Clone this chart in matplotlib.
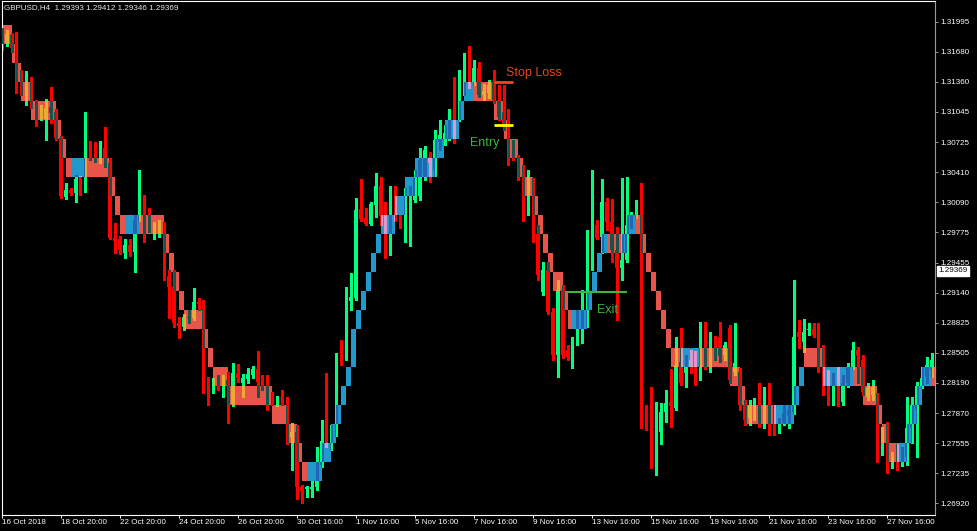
import matplotlib
matplotlib.use("Agg")
import matplotlib.pyplot as plt
from matplotlib.patches import Rectangle
from matplotlib.collections import LineCollection, PolyCollection
from matplotlib.transforms import blended_transform_factory

# ---------------- data (GBPUSD H4) ----------------
opens = [
    1.3188, 1.3177, 1.3185, 1.3172, 1.3143, 1.3117, 1.3138, 1.3113, 1.3100, 1.3097,
    1.3110, 1.3104, 1.3077, 1.3015, 1.3022, 1.3019, 1.3034, 1.3022, 1.3069, 1.3068,
    1.3056, 1.3066, 1.3051, 1.2972, 1.2970, 1.2956, 1.2964, 1.2957, 1.2991, 1.3013,
    1.2995, 1.2979, 1.2981, 1.2984, 1.2932, 1.2920, 1.2882, 1.2878, 1.2888, 1.2887,
    1.2904, 1.2903, 1.2822, 1.2813, 1.2819, 1.2818, 1.2822, 1.2797, 1.2829, 1.2819,
    1.2823, 1.2827, 1.2834, 1.2821, 1.2817, 1.2803, 1.2798, 1.2804, 1.2798, 1.2762,
    1.2767, 1.2709, 1.2707, 1.2707, 1.2709, 1.2732, 1.2758, 1.2751, 1.2766, 1.2854,
    1.2846, 1.2905, 1.2908, 1.3002, 1.2993, 1.2986, 1.3006, 1.3026, 1.2995, 1.2970,
    1.3022, 1.2995, 1.2988, 1.3003, 1.3012, 1.3016, 1.3037, 1.3057, 1.3043, 1.3073,
    1.3075, 1.3079, 1.3102, 1.3096, 1.3126, 1.3164, 1.3136, 1.3151, 1.3122, 1.3124,
    1.3136, 1.3117, 1.3104, 1.3089, 1.3064, 1.3057, 1.3038, 1.3006, 1.3031, 1.2976,
    1.2915, 1.2938, 1.2894, 1.2848, 1.2917, 1.2854, 1.2845, 1.2864, 1.2875, 1.2896,
    1.2954, 1.2985, 1.2973, 1.3009, 1.2988, 1.2959, 1.2940, 1.2948, 1.2985, 1.2996,
    1.3009, 1.2787, 1.2775, 1.2745, 1.2767, 1.2788, 1.2799, 1.2792, 1.2841, 1.2829,
    1.2843, 1.2836, 1.2825, 1.2868, 1.2846, 1.2858, 1.2867, 1.2848, 1.2877, 1.2830,
    1.2830, 1.2796, 1.2782, 1.2783, 1.2792, 1.2780, 1.2791, 1.2780, 1.2768, 1.2777,
    1.2784, 1.2788, 1.2872, 1.2862, 1.2875, 1.2876, 1.2872, 1.2848, 1.2827, 1.2806,
    1.2819, 1.2799, 1.2819, 1.2836, 1.2854, 1.2843, 1.2804, 1.2806, 1.2806, 1.2748,
    1.2775, 1.2735, 1.2738, 1.2736, 1.2741, 1.2771, 1.2790, 1.2816, 1.2825, 1.2832,
]
highs = [
    1.3193, 1.3191, 1.3188, 1.3189, 1.3149, 1.3148, 1.3141, 1.3117, 1.3112, 1.3118,
    1.3131, 1.3107, 1.3079, 1.3029, 1.3024, 1.3038, 1.3037, 1.3104, 1.3074, 1.3073,
    1.3074, 1.3089, 1.3056, 1.2987, 1.2974, 1.2970, 1.2970, 1.2996, 1.3043, 1.3017,
    1.3003, 1.2988, 1.2991, 1.2988, 1.2938, 1.2938, 1.2888, 1.2892, 1.2896, 1.2919,
    1.2908, 1.2906, 1.2825, 1.2824, 1.2827, 1.2827, 1.2830, 1.2840, 1.2839, 1.2828,
    1.2835, 1.2837, 1.2852, 1.2827, 1.2827, 1.2809, 1.2805, 1.2811, 1.2804, 1.2777,
    1.2775, 1.2711, 1.2710, 1.2715, 1.2751, 1.2780, 1.2829, 1.2775, 1.2850, 1.2864,
    1.2920, 1.2935, 1.3014, 1.3034, 1.3003, 1.3010, 1.3040, 1.3036, 1.3009, 1.3026,
    1.3026, 1.2996, 1.3024, 1.3026, 1.3043, 1.3066, 1.3068, 1.3062, 1.3085, 1.3096,
    1.3091, 1.3107, 1.3141, 1.3149, 1.3167, 1.3174, 1.3159, 1.3157, 1.3134, 1.3138,
    1.3149, 1.3133, 1.3133, 1.3107, 1.3075, 1.3059, 1.3049, 1.3043, 1.3035, 1.2985,
    1.2946, 1.2946, 1.2898, 1.2927, 1.2922, 1.2859, 1.2867, 1.2896, 1.2917, 1.2980,
    1.3043, 1.2991, 1.3034, 1.3014, 1.3013, 1.2983, 1.3035, 1.3036, 1.2999, 1.3012,
    1.3030, 1.2796, 1.2815, 1.2799, 1.2798, 1.2811, 1.2833, 1.2867, 1.2877, 1.2848,
    1.2854, 1.2852, 1.2883, 1.2883, 1.2873, 1.2868, 1.2883, 1.2862, 1.2880, 1.2882,
    1.2835, 1.2801, 1.2801, 1.2803, 1.2819, 1.2815, 1.2819, 1.2796, 1.2782, 1.2796,
    1.2796, 1.2927, 1.2885, 1.2886, 1.2882, 1.2882, 1.2882, 1.2859, 1.2832, 1.2829,
    1.2836, 1.2827, 1.2840, 1.2862, 1.2857, 1.2848, 1.2819, 1.2822, 1.2808, 1.2772,
    1.2778, 1.2746, 1.2754, 1.2751, 1.2804, 1.2804, 1.2820, 1.2836, 1.2846, 1.2850,
]
lows = [
    1.3170, 1.3174, 1.3168, 1.3124, 1.3122, 1.3112, 1.3109, 1.3090, 1.3096, 1.3075,
    1.3093, 1.3075, 1.3014, 1.3013, 1.3017, 1.3010, 1.3017, 1.3020, 1.3054, 1.3052,
    1.3051, 1.3046, 1.2970, 1.2956, 1.2955, 1.2950, 1.2953, 1.2936, 1.2989, 1.2967,
    1.2978, 1.2970, 1.2973, 1.2927, 1.2887, 1.2878, 1.2866, 1.2875, 1.2882, 1.2885,
    1.2896, 1.2808, 1.2796, 1.2808, 1.2811, 1.2804, 1.2777, 1.2795, 1.2820, 1.2804,
    1.2819, 1.2824, 1.2804, 1.2811, 1.2790, 1.2796, 1.2794, 1.2796, 1.2754, 1.2727,
    1.2696, 1.2692, 1.2699, 1.2699, 1.2706, 1.2730, 1.2751, 1.2748, 1.2763, 1.2838,
    1.2843, 1.2896, 1.2906, 1.2989, 1.2985, 1.2985, 1.2994, 1.2985, 1.2950, 1.2954,
    1.2989, 1.2982, 1.2967, 1.2963, 1.3010, 1.3012, 1.3033, 1.3031, 1.3037, 1.3064,
    1.3070, 1.3075, 1.3072, 1.3095, 1.3122, 1.3130, 1.3133, 1.3120, 1.3117, 1.3119,
    1.3114, 1.3096, 1.3085, 1.3049, 1.3054, 1.3033, 1.2989, 1.2996, 1.2967, 1.2927,
    1.2912, 1.2891, 1.2843, 1.2825, 1.2845, 1.2843, 1.2835, 1.2859, 1.2861, 1.2878,
    1.2938, 1.2970, 1.2956, 1.2980, 1.2946, 1.2885, 1.2927, 1.2946, 1.2982, 1.2993,
    1.2771, 1.2769, 1.2729, 1.2722, 1.2754, 1.2778, 1.2772, 1.2790, 1.2817, 1.2815,
    1.2829, 1.2817, 1.2822, 1.2833, 1.2830, 1.2843, 1.2841, 1.2843, 1.2819, 1.2827,
    1.2790, 1.2775, 1.2775, 1.2780, 1.2772, 1.2771, 1.2764, 1.2764, 1.2766, 1.2775,
    1.2771, 1.2786, 1.2856, 1.2851, 1.2869, 1.2867, 1.2830, 1.2806, 1.2796, 1.2796,
    1.2794, 1.2796, 1.2815, 1.2833, 1.2819, 1.2806, 1.2801, 1.2801, 1.2735, 1.2743,
    1.2724, 1.2729, 1.2727, 1.2731, 1.2732, 1.2756, 1.2741, 1.2813, 1.2819, 1.2825,
]
closes = [
    1.3177, 1.3187, 1.3172, 1.3143, 1.3128, 1.3136, 1.3113, 1.3098, 1.3107, 1.3109,
    1.3103, 1.3077, 1.3016, 1.3022, 1.3019, 1.3034, 1.3022, 1.3069, 1.3065, 1.3056,
    1.3065, 1.3056, 1.2972, 1.2968, 1.2959, 1.2964, 1.2957, 1.2991, 1.3013, 1.2996,
    1.2980, 1.2982, 1.2985, 1.2932, 1.2920, 1.2882, 1.2879, 1.2888, 1.2887, 1.2904,
    1.2902, 1.2822, 1.2813, 1.2819, 1.2817, 1.2822, 1.2817, 1.2829, 1.2824, 1.2824,
    1.2828, 1.2834, 1.2820, 1.2818, 1.2803, 1.2801, 1.2804, 1.2798, 1.2762, 1.2767,
    1.2709, 1.2705, 1.2709, 1.2709, 1.2715, 1.2758, 1.2754, 1.2766, 1.2847, 1.2846,
    1.2906, 1.2909, 1.3001, 1.2992, 1.2986, 1.3007, 1.3026, 1.2995, 1.2970, 1.3022,
    1.2993, 1.2988, 1.3004, 1.3014, 1.3035, 1.3054, 1.3064, 1.3051, 1.3075, 1.3080,
    1.3082, 1.3094, 1.3095, 1.3127, 1.3164, 1.3134, 1.3151, 1.3122, 1.3127, 1.3133,
    1.3117, 1.3099, 1.3089, 1.3057, 1.3057, 1.3037, 1.3012, 1.3033, 1.2975, 1.2933,
    1.2938, 1.2894, 1.2848, 1.2917, 1.2848, 1.2846, 1.2864, 1.2872, 1.2887, 1.2956,
    1.2985, 1.2972, 1.3009, 1.2988, 1.2959, 1.2940, 1.2948, 1.2985, 1.2994, 1.3009,
    1.2787, 1.2775, 1.2745, 1.2788, 1.2788, 1.2798, 1.2795, 1.2838, 1.2819, 1.2836,
    1.2836, 1.2825, 1.2836, 1.2840, 1.2859, 1.2850, 1.2847, 1.2859, 1.2822, 1.2840,
    1.2796, 1.2780, 1.2796, 1.2798, 1.2780, 1.2792, 1.2778, 1.2772, 1.2776, 1.2787,
    1.2790, 1.2867, 1.2867, 1.2872, 1.2876, 1.2869, 1.2836, 1.2829, 1.2808, 1.2820,
    1.2799, 1.2819, 1.2835, 1.2854, 1.2847, 1.2809, 1.2813, 1.2815, 1.2748, 1.2767,
    1.2735, 1.2741, 1.2736, 1.2746, 1.2771, 1.2796, 1.2816, 1.2824, 1.2838, 1.2843,
]

# renko-style boxes: first bar, last bar, top price, colour ('d' red, 'u' blue)
brick_start = [0, 2, 3, 4, 6, 11, 12, 13, 14, 17, 22, 23, 24, 25, 28, 33, 34, 35, 36, 37,
               41, 42, 43, 46, 55, 58, 60, 61, 62, 65, 67, 68, 69, 70, 71, 71, 72, 73, 74, 75,
               76, 77, 80, 82, 84, 88, 90, 93, 94, 96, 100, 102, 103, 105, 106, 108, 109, 110, 111, 112,
               114, 115, 116, 119, 120, 121, 122, 123, 126, 127, 129, 130, 131, 132, 133, 134, 135, 136, 138, 142,
               148, 150, 151, 157, 161, 162, 163, 167, 173, 175, 178, 179, 180, 182, 184, 185, 186, 187, 189]
brick_end = [2, 3, 4, 6, 11, 12, 13, 14, 17, 22, 23, 24, 25, 28, 33, 34, 35, 36, 37, 41,
             42, 43, 46, 55, 58, 60, 61, 62, 65, 67, 68, 69, 70, 71, 72, 72, 73, 74, 75, 76,
             77, 80, 82, 84, 88, 90, 93, 94, 96, 100, 102, 103, 105, 106, 108, 109, 110, 111, 112, 114,
             115, 116, 119, 120, 121, 122, 123, 126, 127, 129, 130, 131, 132, 133, 134, 135, 136, 138, 142, 148,
             150, 151, 157, 161, 162, 163, 167, 173, 175, 178, 179, 180, 182, 184, 185, 186, 187, 189, 191]
brick_top = [1.3196, 1.3176, 1.3156, 1.3136, 1.3116, 1.3096, 1.3076, 1.3056, 1.3056, 1.3056,
             1.3036, 1.3016, 1.2996, 1.2996, 1.2996, 1.2976, 1.2956, 1.2936, 1.2916, 1.2896,
             1.2876, 1.2856, 1.2836, 1.2816, 1.2796, 1.2776, 1.2756, 1.2736, 1.2736, 1.2756,
             1.2776, 1.2796, 1.2816, 1.2836, 1.2856, 1.2876, 1.2896, 1.2916, 1.2936, 1.2956,
             1.2976, 1.2996, 1.3016, 1.3036, 1.3056, 1.3076, 1.3096, 1.3116, 1.3136, 1.3136,
             1.3116, 1.3096, 1.3076, 1.3056, 1.3036, 1.3016, 1.2996, 1.2976, 1.2956, 1.2936,
             1.2916, 1.2896, 1.2896, 1.2916, 1.2936, 1.2956, 1.2976, 1.2976, 1.2976, 1.2996,
             1.2996, 1.2976, 1.2956, 1.2936, 1.2916, 1.2896, 1.2876, 1.2856, 1.2856, 1.2856,
             1.2836, 1.2816, 1.2796, 1.2796, 1.2816, 1.2836, 1.2856, 1.2836, 1.2836, 1.2816,
             1.2796, 1.2776, 1.2756, 1.2756, 1.2776, 1.2796, 1.2816, 1.2836, 1.2836]
brick_dir = ['d', 'd', 'd', 'd', 'd', 'd', 'd', 'd', 'u', 'd',
             'd', 'd', 'd', 'u', 'd', 'd', 'd', 'd', 'd', 'd',
             'd', 'd', 'd', 'd', 'd', 'd', 'd', 'd', 'u', 'u',
             'u', 'u', 'u', 'u', 'u', 'u', 'u', 'u', 'u', 'u',
             'u', 'u', 'u', 'u', 'u', 'u', 'u', 'u', 'u', 'd',
             'd', 'd', 'd', 'd', 'd', 'd', 'd', 'd', 'd', 'd',
             'd', 'd', 'u', 'u', 'u', 'u', 'u', 'd', 'u', 'u',
             'd', 'd', 'd', 'd', 'd', 'd', 'd', 'd', 'u', 'd',
             'd', 'd', 'd', 'u', 'u', 'u', 'd', 'u', 'd', 'd',
             'd', 'd', 'd', 'u', 'u', 'u', 'u', 'u', 'd']
BRICK = 0.0020

price_ticks = [1.31995, 1.31680, 1.31360, 1.31045, 1.30725, 1.30410, 1.30090, 1.29775,
               1.29455, 1.29140, 1.28825, 1.28505, 1.28190, 1.27870, 1.27555, 1.27235, 1.26920]
date_tick_bars = [0, 12, 24, 36, 48, 60, 72, 84, 96, 108, 120, 132, 144, 156, 168, 180]
date_labels = ['16 Oct 2018', '18 Oct 20:00', '22 Oct 20:00', '24 Oct 20:00', '26 Oct 20:00',
               '30 Oct 16:00', '1 Nov 16:00', '5 Nov 16:00', '7 Nov 16:00', '9 Nov 16:00',
               '13 Nov 16:00', '15 Nov 16:00', '19 Nov 16:00', '21 Nov 16:00', '23 Nov 16:00',
               '27 Nov 16:00']
header = "GBPUSD,H4  1.29393 1.29412 1.29346 1.29369"
last_price = 1.29369

stop_level, entry_level, exit_level = 1.3136, 1.3091, 1.2915
stop_bars, entry_bars, exit_bars = (100, 104), (100, 104), (115, 127)

# ---------------- style ----------------
BULL = (0, 255, 127)
BEAR = (255, 0, 0)
RED_BOX = (232, 83, 74)
BLUE_BOX = (34, 153, 204)
FONT = 'Liberation Sans'


def rgb(c):
    return tuple(v / 255 for v in c)


def xor(a, b):
    return tuple((x ^ y) / 255 for x, y in zip(a, b))


N = len(closes)
W, H = 977, 531
fig = plt.figure(figsize=(W / 100, H / 100), dpi=100, facecolor='black')
ax = fig.add_axes([1.7 / W, (H - 515) / H, (935 - 1.7) / W, (515 - 1.3) / H])
ax.set_facecolor('black')
ax.set_xlim(0, (935 - 1.7) / 4.92)
ax.set_ylim(1.267966, 1.322100)


def draw_candles(idx, up_col, dn_col, z, clip=None):
    segs, cols, verts = [], [], []
    for i in idx:
        col = up_col if closes[i] >= opens[i] else dn_col
        segs.append([(i, lows[i]), (i, highs[i])])
        lo, hi = min(opens[i], closes[i]), max(opens[i], closes[i])
        if hi - lo < 0.00011:
            mid = (hi + lo) / 2
            lo, hi = mid - 0.000055, mid + 0.000055
        verts.append([(i - 0.31, lo), (i + 0.31, lo), (i + 0.31, hi), (i - 0.31, hi)])
        cols.append(col)
    lc = LineCollection(segs, colors=cols, linewidths=0.75, antialiased=False, zorder=z)
    pc = PolyCollection(verts, facecolors=cols, edgecolors='none', antialiased=False, zorder=z)
    for art in (lc, pc):
        ax.add_collection(art)
        if clip is not None:
            art.set_clip_path(clip)


# boxes
patches = []
for s, e, top, d in zip(brick_start, brick_end, brick_top, brick_dir):
    col = RED_BOX if d == 'd' else BLUE_BOX
    r = Rectangle((s, top - BRICK), e - s, BRICK, facecolor=rgb(col), edgecolor='none',
                  antialiased=False, zorder=1)
    ax.add_patch(r)
    patches.append((r, s, e, col))

# candles
draw_candles(range(N), rgb(BULL), rgb(BEAR), 2)

# candles seen through the boxes (XOR-drawn objects)
for r, s, e, col in patches:
    idx = [i for i in range(N) if s - 0.5 <= i <= e + 0.5]
    if idx:
        draw_candles(idx, xor(BULL, col), xor(BEAR, col), 3, clip=r)

# trade annotations
ax.plot(stop_bars, [stop_level] * 2, color='#F04A14', lw=2.0, solid_capstyle='butt', zorder=5)
ax.plot(entry_bars, [entry_level] * 2, color='#FFFF00', lw=2.0, solid_capstyle='butt', zorder=5)
ax.plot(exit_bars, [exit_level] * 2, color='#3CB43C', lw=1.5, solid_capstyle='butt', zorder=5)
ax.text(102.5, 1.31418, 'Stop Loss', color='#E5461C', fontsize=9, family=FONT,
        ha='left', va='baseline', zorder=6)
ax.text(95.2, 1.30690, 'Entry', color='#3CB43C', fontsize=9, family=FONT,
        ha='left', va='baseline', zorder=6)
ax.text(121.0, 1.28929, 'Exit', color='#3CB43C', fontsize=9, family=FONT,
        ha='left', va='baseline', zorder=6)

# axes frame and ticks
for side in ('top', 'left', 'bottom'):
    ax.spines[side].set_color('white')
    ax.spines[side].set_linewidth(0.8)
ax.spines['right'].set_color('#9a9a9a')
ax.spines['right'].set_linewidth(0.8)

ax.yaxis.tick_right()
ax.set_yticks(price_ticks)
ax.set_yticklabels([f'{p:.5f}' for p in price_ticks])
ax.tick_params(axis='y', direction='out', length=2.2, width=0.7, color='#9a9a9a',
               labelcolor='white', labelsize=5.8, pad=1.6)
ax.set_xticks(date_tick_bars)
ax.set_xticklabels(date_labels)
ax.tick_params(axis='x', direction='out', length=2.0, width=0.7, color='white',
               labelcolor='white', labelsize=5.8, pad=1.2)
for lab in ax.get_xticklabels():
    lab.set_horizontalalignment('left')
    lab.set_family(FONT)
for lab in ax.get_yticklabels():
    lab.set_family(FONT)

# current price marker
tr = blended_transform_factory(ax.transAxes, ax.transData)
ax.text(1.0035, last_price, f'{last_price:.5f}', transform=tr, color='black', fontsize=5.8,
        family=FONT, ha='left', va='center', zorder=10,
        bbox=dict(boxstyle='square,pad=0.18', facecolor='white', edgecolor='white'))

fig.text(4 / W, 1 - 7.5 / H, header, color='#E8E8E8', fontsize=5.8, family=FONT,
         ha='left', va='center')

fig.savefig('out.png', dpi=100, facecolor='black')
